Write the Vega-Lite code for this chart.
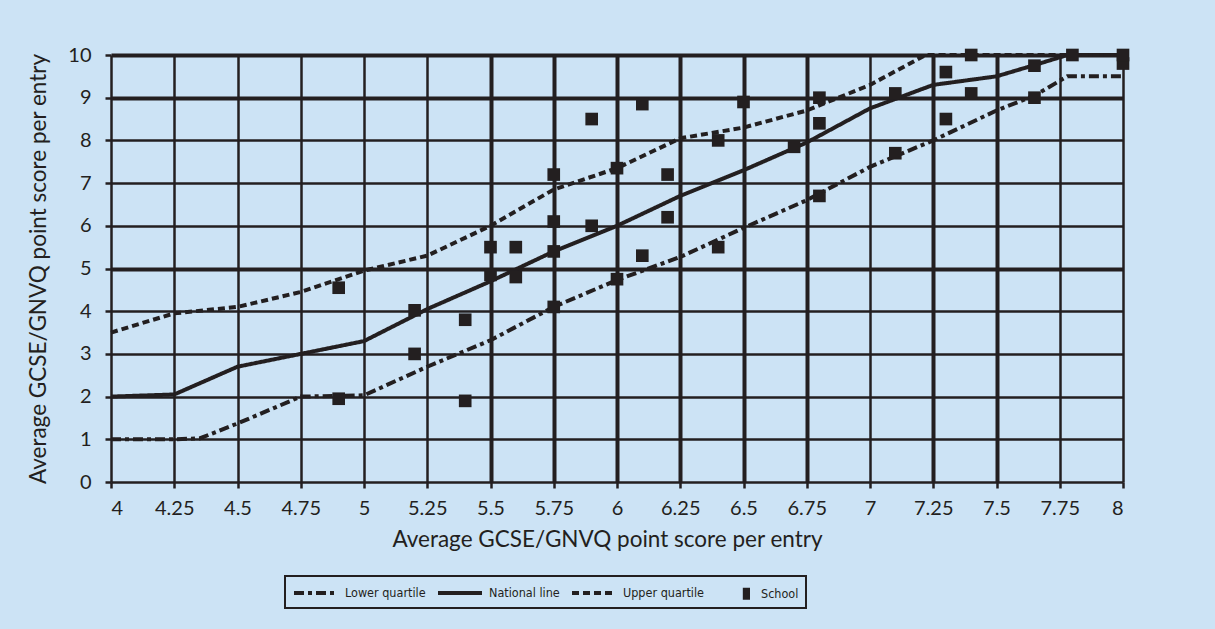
{
  "$schema": "https://vega.github.io/schema/vega-lite/v6.json",
  "width": 1012,
  "height": 427,
  "autosize": {"type": "none"},
  "padding": {"left": 111, "top": 55, "right": 92, "bottom": 147},
  "background": "#cce3f5",
  "config": {
    "view": {"stroke": null},
    "font": "Lato",
    "axis": {
      "grid": true,
      "gridColor": "#231f20",
      "gridOpacity": 1,
      "domain": false,
      "tickColor": "#231f20",
      "tickWidth": 2.5,
      "tickSize": 6,
      "labelColor": "#231f20",
      "labelFontSize": 20,
      "titleColor": "#231f20",
      "titleFontSize": 22.5,
      "titleFontWeight": "normal"
    }
  },
  "datasets": {
    "lines": [
      {"series": "Lower quartile", "x": 4, "y": 1},
      {"series": "Lower quartile", "x": 4.25, "y": 1.0},
      {"series": "Lower quartile", "x": 4.35, "y": 1.02},
      {"series": "Lower quartile", "x": 4.5, "y": 1.37},
      {"series": "Lower quartile", "x": 4.75, "y": 2.0},
      {"series": "Lower quartile", "x": 5, "y": 2.03},
      {"series": "Lower quartile", "x": 5.25, "y": 2.7},
      {"series": "Lower quartile", "x": 5.5, "y": 3.32},
      {"series": "Lower quartile", "x": 5.75, "y": 4.1},
      {"series": "Lower quartile", "x": 6, "y": 4.73},
      {"series": "Lower quartile", "x": 6.25, "y": 5.27},
      {"series": "Lower quartile", "x": 6.5, "y": 5.95},
      {"series": "Lower quartile", "x": 6.75, "y": 6.6},
      {"series": "Lower quartile", "x": 7, "y": 7.38},
      {"series": "Lower quartile", "x": 7.25, "y": 8.0},
      {"series": "Lower quartile", "x": 7.5, "y": 8.7},
      {"series": "Lower quartile", "x": 7.65, "y": 9.05},
      {"series": "Lower quartile", "x": 7.78, "y": 9.5},
      {"series": "Lower quartile", "x": 8, "y": 9.5},
      {"series": "National line", "x": 4, "y": 2},
      {"series": "National line", "x": 4.25, "y": 2.05},
      {"series": "National line", "x": 4.5, "y": 2.7},
      {"series": "National line", "x": 4.75, "y": 3.0},
      {"series": "National line", "x": 5, "y": 3.3},
      {"series": "National line", "x": 5.25, "y": 4.05},
      {"series": "National line", "x": 5.5, "y": 4.7},
      {"series": "National line", "x": 5.75, "y": 5.4},
      {"series": "National line", "x": 6, "y": 6.0},
      {"series": "National line", "x": 6.25, "y": 6.7},
      {"series": "National line", "x": 6.5, "y": 7.3},
      {"series": "National line", "x": 6.75, "y": 7.95},
      {"series": "National line", "x": 7, "y": 8.75},
      {"series": "National line", "x": 7.25, "y": 9.3},
      {"series": "National line", "x": 7.5, "y": 9.5},
      {"series": "National line", "x": 7.67, "y": 9.8},
      {"series": "National line", "x": 7.78, "y": 10},
      {"series": "National line", "x": 8, "y": 10},
      {"series": "Upper quartile", "x": 4, "y": 3.5},
      {"series": "Upper quartile", "x": 4.25, "y": 3.95},
      {"series": "Upper quartile", "x": 4.5, "y": 4.1},
      {"series": "Upper quartile", "x": 4.75, "y": 4.45},
      {"series": "Upper quartile", "x": 5, "y": 4.95},
      {"series": "Upper quartile", "x": 5.25, "y": 5.3},
      {"series": "Upper quartile", "x": 5.5, "y": 6.0},
      {"series": "Upper quartile", "x": 5.75, "y": 6.85},
      {"series": "Upper quartile", "x": 6, "y": 7.35},
      {"series": "Upper quartile", "x": 6.25, "y": 8.05},
      {"series": "Upper quartile", "x": 6.5, "y": 8.3},
      {"series": "Upper quartile", "x": 6.75, "y": 8.7},
      {"series": "Upper quartile", "x": 7, "y": 9.3},
      {"series": "Upper quartile", "x": 7.22, "y": 10},
      {"series": "Upper quartile", "x": 8, "y": 10}
    ],
    "schools": [
      {"x": 4.9, "y": 1.95}, {"x": 4.9, "y": 4.55},
      {"x": 5.2, "y": 3.0}, {"x": 5.2, "y": 4.02},
      {"x": 5.4, "y": 1.9}, {"x": 5.4, "y": 3.8},
      {"x": 5.5, "y": 4.85}, {"x": 5.5, "y": 5.5},
      {"x": 5.6, "y": 4.8}, {"x": 5.6, "y": 5.5},
      {"x": 5.75, "y": 4.1}, {"x": 5.75, "y": 5.4}, {"x": 5.75, "y": 6.1}, {"x": 5.75, "y": 7.2},
      {"x": 5.9, "y": 6.0}, {"x": 5.9, "y": 8.5},
      {"x": 6.0, "y": 4.75}, {"x": 6.0, "y": 7.35},
      {"x": 6.1, "y": 5.3}, {"x": 6.1, "y": 8.85},
      {"x": 6.2, "y": 6.2}, {"x": 6.2, "y": 7.2},
      {"x": 6.4, "y": 5.5}, {"x": 6.4, "y": 8.0},
      {"x": 6.5, "y": 8.9},
      {"x": 6.7, "y": 7.85},
      {"x": 6.8, "y": 6.7}, {"x": 6.8, "y": 8.4}, {"x": 6.8, "y": 9.0},
      {"x": 7.1, "y": 7.7}, {"x": 7.1, "y": 9.1},
      {"x": 7.3, "y": 8.5}, {"x": 7.3, "y": 9.6},
      {"x": 7.4, "y": 9.1}, {"x": 7.4, "y": 10},
      {"x": 7.65, "y": 9.0}, {"x": 7.65, "y": 9.75},
      {"x": 7.8, "y": 10},
      {"x": 8, "y": 9.8}, {"x": 8, "y": 10}
    ]
  },
  "layer": [
    {
      "data": {"name": "lines"},
      "mark": {"type": "line", "strokeWidth": 4, "color": "#231f20"},
      "encoding": {
        "x": {
          "field": "x",
          "type": "quantitative",
          "scale": {"domain": [4, 8], "nice": false, "zero": false},
          "axis": {
            "values": [4, 4.25, 4.5, 4.75, 5, 5.25, 5.5, 5.75, 6, 6.25, 6.5, 6.75, 7, 7.25, 7.5, 7.75, 8],
            "format": ".4~g",
            "title": "Average GCSE/GNVQ point score per entry",
            "labelPadding": 10,
            "titlePadding": 10,
            "titleX": 496,
            "gridWidth": {
              "condition": {"test": "indexof([5.5, 5.75, 6, 6.25, 6.5, 6.75, 7.25, 7.5], datum.value) >= 0", "value": 4},
              "value": 2.5
            }
          }
        },
        "y": {
          "field": "y",
          "type": "quantitative",
          "scale": {"domain": [0, 10], "nice": false},
          "axis": {
            "values": [0, 1, 2, 3, 4, 5, 6, 7, 8, 9, 10],
            "title": "Average GCSE/GNVQ point score per entry",
            "labelPadding": 14,
            "titlePadding": 17,
            "gridWidth": {
              "condition": {"test": "indexof([5, 9, 10], datum.value) >= 0", "value": 4},
              "value": 2.5
            }
          }
        },
        "strokeDash": {
          "field": "series",
          "type": "nominal",
          "scale": {
            "domain": ["Lower quartile", "National line", "Upper quartile", "School"],
            "range": [[10, 4, 4, 4], [1, 0], [7, 4], [1, 0]]
          },
          "legend": {
            "title": null,
            "orient": "none",
            "legendX": 174,
            "legendY": 521,
            "direction": "horizontal",
            "columns": 4,
            "strokeColor": "#231f20",
            "padding": 7,
            "columnPadding": 4,
            "labelOffset": 33,
            "labelFont": "Liberation Sans Narrow, DejaVu Sans Condensed, Lato",
            "labelFontSize": 12.5,
            "labelColor": "#231f20",
            "symbolSize": 256,
            "symbolStrokeWidth": 4,
            "symbolStrokeColor": "#231f20",
            "encode": {
              "legend": {
                "update": {"strokeWidth": {"value": 2}}
              },
              "symbols": {
                "update": {
                  "shape": {"signal": "datum.value === 'School' ? 'M3.1,-0.75H4V0.75H3.1Z' : 'M-1,0H4.5'"},
                  "size": {"value": 256},
                  "stroke": {"signal": "datum.value === 'School' ? null : '#231f20'"},
                  "strokeWidth": {"value": 4},
                  "fill": {"signal": "datum.value === 'School' ? '#231f20' : null"}
                }
              }
            }
          }
        }
      }
    },
    {
      "data": {"name": "schools"},
      "mark": {"type": "point", "shape": "square", "filled": true, "size": 160, "color": "#231f20", "opacity": 1},
      "encoding": {
        "x": {"field": "x", "type": "quantitative"},
        "y": {"field": "y", "type": "quantitative"}
      }
    }
  ]
}
